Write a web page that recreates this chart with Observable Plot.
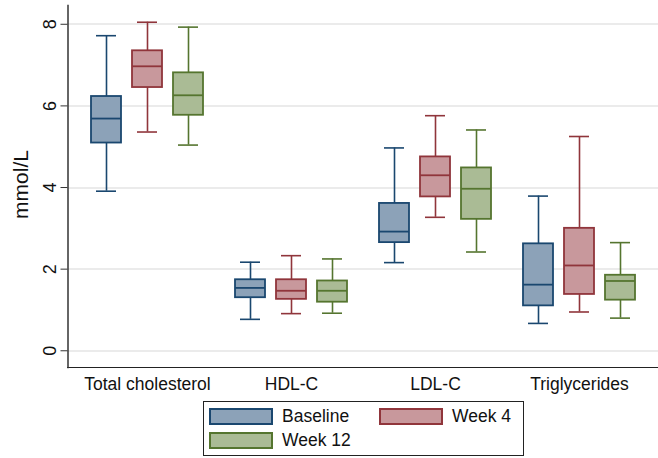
<!DOCTYPE html>
<html><head><meta charset="utf-8">
<script src="https://cdn.jsdelivr.net/npm/d3@7"></script>
<script src="https://cdn.jsdelivr.net/npm/@observablehq/plot@0.6"></script>
<style>
body{margin:0;background:#fff;font-family:"Liberation Sans",Arial,sans-serif;}
#wrap{position:relative;width:658px;height:458px;}
#legend{position:absolute;left:203px;top:401px;width:321px;height:55px;box-sizing:border-box;border:1px solid #222;display:grid;grid-template-columns:170px 140px;grid-auto-rows:24px;padding:6px 0 0 5px;}
.item{display:flex;align-items:center;gap:9px;font-size:17.5px;color:#111;height:17px;white-space:nowrap}
.sw{width:64px;height:17px;box-sizing:border-box;border:2px solid}
</style></head><body><div id="wrap"><div id="chart"></div><div id="legend"></div></div>
<script>
const categories = ["Total cholesterol", "HDL-C", "LDL-C", "Triglycerides"];
const series = ["Baseline", "Week 4", "Week 12"];
const fills = ["#8ca2b8", "#c8989c", "#aabb95"];
const strokes = ["#1a476f", "#90353b", "#55752f"];
const yTicks = [0, 2, 4, 6, 8];
const yLabel = "mmol/L";
// rows: categories, columns: series
const mins    = [[3.91, 5.36, 5.04], [0.77, 0.91, 0.92], [2.16, 3.27, 2.42], [0.67, 0.95, 0.80]];
const q1s     = [[5.09, 6.45, 5.77], [1.30, 1.26, 1.19], [2.65, 3.77, 3.22], [1.10, 1.38, 1.24]];
const medians = [[5.69, 6.97, 6.26], [1.54, 1.47, 1.47], [2.92, 4.30, 3.97], [1.62, 2.09, 1.71]];
const q3s     = [[6.23, 7.35, 6.81], [1.74, 1.74, 1.71], [3.61, 4.75, 4.48], [2.62, 3.00, 1.85]];
const maxs    = [[7.72, 8.05, 7.93], [2.17, 2.33, 2.25], [4.97, 5.76, 5.41], [3.79, 5.25, 2.65]];

const rows = [];
categories.forEach((c, i) => series.forEach((s, j) => rows.push({
  category: c, series: s, min: mins[i][j], q1: q1s[i][j], median: medians[i][j], q3: q3s[i][j], max: maxs[i][j]
})));

const shift = -7.5;
const marks = [
  Plot.ruleY(yTicks, {y: d => d, stroke: "#ebebeb", strokeWidth: 2, insetLeft: shift, insetRight: shift, shapeRendering: "crispEdges"}),
];
series.forEach((s, j) => {
  const data = rows.filter(d => d.series === s);
  marks.push(
    Plot.ruleX(data, {fx: "category", x: "series", y1: "min", y2: "max", stroke: strokes[j], strokeWidth: 1.6}),
    Plot.tickY(data, {fx: "category", x: "series", y: "min", stroke: strokes[j], strokeWidth: 1.6, insetLeft: 5, insetRight: 5}),
    Plot.tickY(data, {fx: "category", x: "series", y: "max", stroke: strokes[j], strokeWidth: 1.6, insetLeft: 5, insetRight: 5}),
    Plot.barY(data, {fx: "category", x: "series", y1: "q1", y2: "q3", fill: fills[j], stroke: strokes[j], strokeWidth: 1.8}),
    Plot.tickY(data, {fx: "category", x: "series", y: "median", stroke: strokes[j], strokeWidth: 1.8})
  );
});
marks.push(
  Plot.frame({anchor: "bottom", stroke: "#222", strokeWidth: 1.5, insetLeft: shift, insetRight: shift, shapeRendering: "crispEdges"}),
  Plot.frame({anchor: "left", facetAnchor: "left", stroke: "#333", strokeWidth: 1.5, dx: shift}),
  Plot.axisY(yTicks, {tickSize: 7, tickRotate: -90, tickPadding: 5, dx: shift, stroke: "#333", fill: "#111", fontSize: 18, label: null}),
  Plot.text([yLabel], {text: d => d, frameAnchor: "left", facetAnchor: "left", rotate: -90, textAnchor: "middle", dy: -2, dx: shift - 47, fontSize: 21, fill: "#111"}),
  Plot.axisFx({anchor: "bottom", tickSize: 0, tickPadding: 10, label: null, fill: "#111"})
);

const chart = Plot.plot({
  width: 658, height: 395,
  marginLeft: 67, marginRight: 0, marginTop: 5, marginBottom: 28,
  style: {fontFamily: "'Liberation Sans', Arial, sans-serif", fontSize: "17.5px", background: "white"},
  fx: {domain: categories, paddingInner: 0, paddingOuter: 0.052, label: null},
  x: {domain: series, paddingInner: 0.268, paddingOuter: 0.39, axis: null},
  y: {domain: [-0.41, 8.46], label: null},
  marks
});
document.getElementById("chart").appendChild(chart);

const legend = document.getElementById("legend");
series.forEach((s, j) => {
  const it = document.createElement("div");
  it.className = "item";
  const sw = document.createElement("div");
  sw.className = "sw";
  sw.style.background = fills[j];
  sw.style.borderColor = strokes[j];
  const tx = document.createElement("span");
  tx.textContent = s;
  it.appendChild(sw); it.appendChild(tx);
  legend.appendChild(it);
});
</script></body></html>
